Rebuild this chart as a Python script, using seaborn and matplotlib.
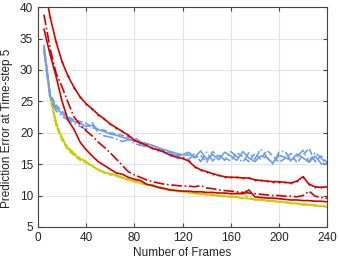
import numpy as np
import pandas as pd
import matplotlib
matplotlib.use("Agg")
import matplotlib.pyplot as plt
import seaborn as sns

frames = np.arange(5, 245, 5)

red_top = [44.0, 38.5, 34.5, 31.3, 29.0, 27.2, 25.7, 24.6, 23.8, 22.9, 22.2, 21.4,
           20.8, 20.2, 19.6, 18.8, 18.4, 18.0, 17.5, 17.3, 16.9, 16.4, 16.1, 15.9,
           15.5, 14.6, 14.1, 13.8, 13.5, 13.2, 13.0, 12.9, 12.9, 12.8, 12.8, 12.5,
           12.4, 12.3, 12.2, 12.2, 12.1, 12.0, 12.3, 13.0, 11.8, 11.4, 11.3, 11.4]
red_dashdot = [38.8, 33.5, 29.5, 27.3, 24.8, 22.5, 21.3, 20.3, 19.5, 18.5, 17.7, 16.8,
               15.8, 14.8, 13.8, 13.3, 12.9, 12.5, 12.2, 12.0, 11.8, 11.7, 11.6, 11.5,
               11.5, 11.4, 11.6, 11.2, 11.1, 10.9, 10.8, 10.7, 10.6, 10.5, 10.4, 10.3,
               10.2, 10.1, 10.0, 10.0, 9.9, 9.9, 9.8, 10.0, 10.7, 9.9, 9.7, 9.6]
red_low = [36.5, 32.5, 29.0, 25.0, 22.0, 20.5, 18.5, 17.3, 16.3, 15.4, 14.8, 14.2,
           13.6, 13.4, 12.9, 12.6, 12.4, 11.8, 11.6, 11.3, 11.1, 10.9, 10.8, 10.7,
           10.7, 10.6, 10.6, 10.5, 10.5, 10.4, 10.4, 10.3, 10.3, 10.3, 10.9, 9.8,
           9.7, 9.6, 9.6, 9.5, 9.4, 9.3, 9.3, 9.2, 9.2, 9.1, 9.1, 9.0]

blue_solid = [33.5, 26.0, 24.0, 23.0, 22.3, 21.8, 21.5, 21.0, 21.2, 20.5, 20.2, 19.8,
              19.6, 19.3, 19.0, 18.7, 18.5, 18.3, 18.0, 17.6, 17.3, 17.0, 16.7, 16.5,
              16.9, 16.1, 17.1, 15.8, 16.5, 15.7, 16.9, 16.3, 15.6, 17.0, 16.0, 15.4,
              16.3, 16.0, 15.2, 16.4, 16.1, 15.6, 16.6, 16.0, 15.3, 16.3, 15.1, 15.0]
blue_dashdot = [33.0, 25.5, 23.5, 22.6, 22.0, 21.5, 21.0, 20.5, 21.6, 20.0, 19.5, 19.3,
                19.0, 18.6, 18.9, 18.3, 18.0, 17.8, 17.5, 17.2, 16.9, 16.6, 16.4, 16.2,
                15.7, 16.7, 15.4, 16.9, 15.5, 16.6, 15.6, 17.0, 16.2, 15.3, 16.8, 15.8,
                17.4, 16.1, 15.0, 16.9, 17.1, 15.5, 16.2, 17.2, 15.4, 16.9, 16.0, 14.9]
blue_dashed = [34.0, 26.2, 24.4, 23.4, 22.6, 22.0, 21.8, 21.5, 20.8, 20.6, 20.4, 20.0,
               19.8, 19.6, 19.3, 19.2, 18.6, 18.2, 17.9, 17.7, 17.1, 16.8, 16.6, 16.3,
               16.5, 16.0, 16.4, 15.3, 17.0, 16.2, 16.0, 15.5, 16.8, 16.2, 15.4, 16.7,
               15.8, 17.2, 16.3, 15.3, 15.9, 16.7, 15.2, 16.5, 17.5, 15.4, 16.3, 15.2]

yellow_solid = [33.5, 26.0, 21.5, 19.0, 17.5, 16.5, 15.9, 15.3, 14.7, 14.1, 13.7, 13.5,
                13.2, 12.9, 12.5, 12.3, 12.0, 11.8, 11.6, 11.3, 11.1, 10.9, 10.7, 10.6,
                10.5, 10.4, 10.3, 10.2, 10.1, 10.0, 9.9, 9.8, 9.7, 9.6, 9.5, 9.4,
                9.3, 9.2, 9.1, 9.0, 8.9, 8.8, 8.7, 8.6, 8.5, 8.4, 8.3, 8.2]
yellow_dashed = [33.2, 25.6, 21.2, 18.8, 17.2, 16.4, 15.6, 15.2, 14.8, 14.0, 13.8, 13.3,
                 13.1, 12.8, 12.6, 12.2, 11.9, 11.9, 11.5, 11.4, 11.0, 10.9, 10.8, 10.5,
                 10.6, 10.3, 10.2, 10.3, 10.0, 10.0, 9.8, 9.9, 10.4, 10.5, 9.6, 9.4,
                 9.4, 9.2, 9.2, 9.0, 8.9, 8.9, 8.7, 8.7, 8.5, 8.5, 8.3, 8.3]
yellow_dashdot = [33.8, 26.3, 21.8, 19.2, 17.7, 16.7, 16.0, 15.4, 14.6, 14.2, 13.6, 13.4,
                  13.3, 12.8, 12.4, 12.4, 12.1, 11.7, 11.7, 11.2, 11.2, 10.8, 10.7, 10.7,
                  10.4, 10.5, 10.2, 10.1, 10.2, 9.9, 10.0, 9.7, 9.8, 9.5, 9.6, 9.3,
                  9.4, 9.1, 9.2, 8.9, 9.0, 8.7, 8.8, 8.5, 8.6, 8.3, 8.4, 8.2]

red = "#d40000"
blue = "#6d9eeb"
yellow = "#cccc00"

sns.set_style("ticks")
plt.rcParams['font.family'] = ['Liberation Sans', 'DejaVu Sans']

fig = plt.figure(figsize=(3.39, 2.63), dpi=100)
ax = fig.add_axes([0.112, 0.137, 0.853, 0.836])

lw = 1.2
for vals, ls in [(yellow_solid, '-'), (yellow_dashed, '--'), (yellow_dashdot, '-.')]:
    sns.lineplot(x=frames, y=vals, color=yellow, linestyle=ls, linewidth=lw, ax=ax)
for vals, ls in [(blue_solid, '-'), (blue_dashdot, '-.'), (blue_dashed, '--')]:
    sns.lineplot(x=frames, y=vals, color=blue, linestyle=ls, linewidth=lw, ax=ax)
sns.lineplot(x=frames, y=red_top, color=red, linestyle='-', linewidth=lw,
             marker='.', markersize=3, markeredgewidth=0, ax=ax)
sns.lineplot(x=frames, y=red_dashdot, color=red, linestyle='-.', linewidth=lw, ax=ax)
sns.lineplot(x=frames, y=red_low, color=red, linestyle='-', linewidth=lw, ax=ax)

ax.set_xlim(0, 240)
ax.set_ylim(5, 40)
ax.set_xticks(range(0, 241, 40))
ax.set_yticks(range(5, 41, 5))
ax.grid(True, color="#e3e3e3", linewidth=0.8)
ax.set_axisbelow(True)
ax.tick_params(direction='in', top=True, right=True, labelsize=8.5, length=3,
               color="#444444", width=0.8, labelcolor="#222222")
for s in ax.spines.values():
    s.set_color("#444444")
    s.set_linewidth(0.8)
ax.set_xlabel("Number of Frames", fontsize=8.5, color="#222222", labelpad=2)
ax.set_ylabel("Prediction Error at Time-step 5", fontsize=8.5, color="#222222")
ax.yaxis.set_label_coords(-0.088, 0.45)

fig.savefig("out.png", dpi=100)
